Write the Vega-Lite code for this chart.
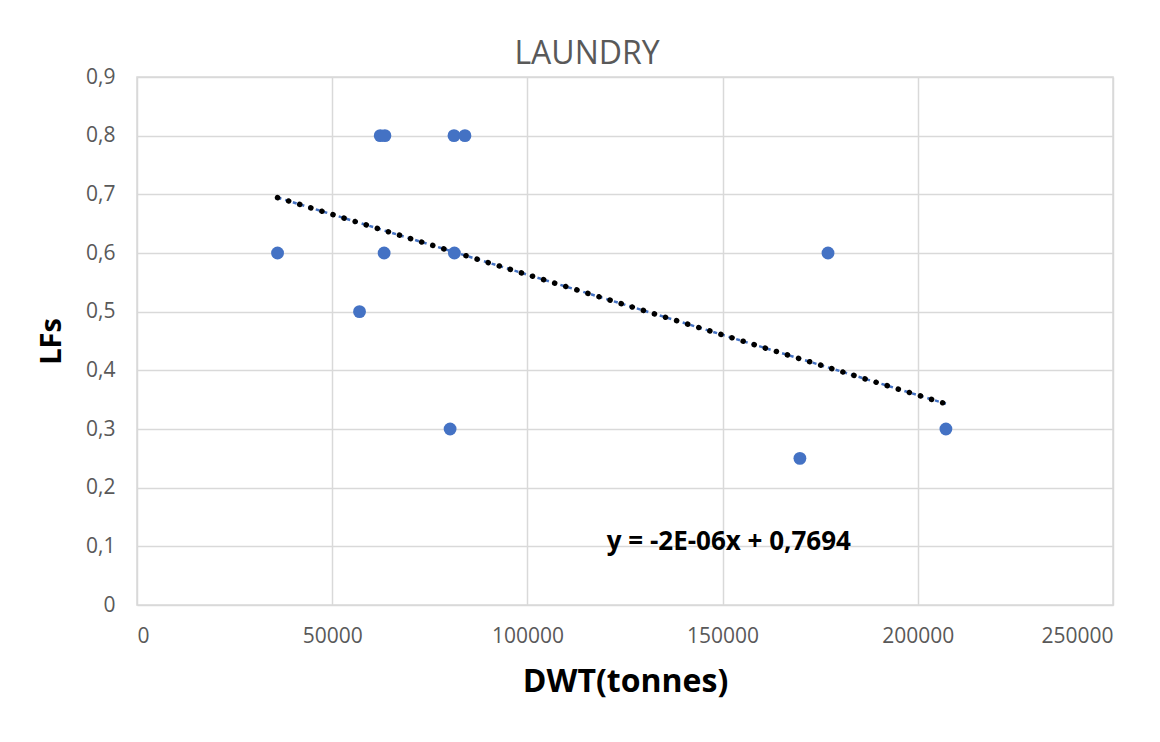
{
  "$schema": "https://vega.github.io/schema/vega-lite/v6.json",
  "width": 976,
  "height": 528,
  "autosize": {"type": "none"},
  "padding": {"left": 137, "top": 77, "right": 47, "bottom": 137},
  "background": "white",
  "config": {
    "locale": {"number": {"decimal": ",", "thousands": "", "grouping": [3], "currency": ["", ""]}},
    "view": {"stroke": "#d9d9d9", "strokeWidth": 1.5},
    "axis": {
      "gridColor": "#d9d9d9",
      "gridWidth": 1.5,
      "domain": false,
      "ticks": false,
      "labelFont": "Open Sans",
      "labelFontSize": 21,
      "labelColor": "#595959",
      "titleFont": "Open Sans",
      "titleFontWeight": "bold",
      "titleFontSize": 29,
      "titleColor": "#000000"
    }
  },
  "title": {
    "text": "LAUNDRY",
    "font": "Open Sans",
    "fontSize": 32,
    "fontWeight": "normal",
    "color": "#595959",
    "anchor": "middle",
    "dx": -38,
    "offset": -5
  },
  "datasets": {
    "points": [
      {"dwt": 36000, "lfs": 0.6},
      {"dwt": 57000, "lfs": 0.5},
      {"dwt": 62300, "lfs": 0.8},
      {"dwt": 63500, "lfs": 0.8},
      {"dwt": 63300, "lfs": 0.6},
      {"dwt": 81200, "lfs": 0.8},
      {"dwt": 84000, "lfs": 0.8},
      {"dwt": 81300, "lfs": 0.6},
      {"dwt": 80200, "lfs": 0.3},
      {"dwt": 169800, "lfs": 0.25},
      {"dwt": 177000, "lfs": 0.6},
      {"dwt": 207200, "lfs": 0.3}
    ],
    "trend": [
      {"dwt": 36000, "lfs": 0.6945},
      {"dwt": 207200, "lfs": 0.343}
    ],
    "eq": [
      {"label": "y = -2E-06x  + 0,7694", "dwt": 151600, "lfs": 0.107}
    ]
  },
  "layer": [
    {
      "data": {"name": "trend"},
      "mark": {"type": "line", "color": "#4472C4", "strokeWidth": 2.5, "strokeDash": [4, 4]},
      "encoding": {
        "x": {"field": "dwt", "type": "quantitative"},
        "y": {"field": "lfs", "type": "quantitative"}
      }
    },
    {
      "data": {"name": "trend"},
      "mark": {"type": "line", "color": "#000000", "strokeWidth": 5.5, "strokeCap": "round", "strokeDash": [0.1, 11.5]},
      "encoding": {
        "x": {"field": "dwt", "type": "quantitative"},
        "y": {"field": "lfs", "type": "quantitative"}
      }
    },
    {
      "data": {"name": "points"},
      "mark": {"type": "circle", "color": "#4472C4", "size": 165, "opacity": 1},
      "encoding": {
        "x": {
          "field": "dwt",
          "type": "quantitative",
          "scale": {"domain": [0, 250000], "nice": false, "zero": true},
          "axis": {"values": [0, 50000, 100000, 150000, 200000, 250000], "format": "d", "labelPadding": 20, "title": "DWT(tonnes)", "titleFontSize": 32, "titlePadding": 20}
        },
        "y": {
          "field": "lfs",
          "type": "quantitative",
          "scale": {"domain": [0, 0.9], "nice": false},
          "axis": {"values": [0, 0.1, 0.2, 0.3, 0.4, 0.5, 0.6, 0.7, 0.8, 0.9], "format": ".1~f", "labelPadding": 22, "title": "LFs", "titlePadding": 19}
        }
      }
    },
    {
      "data": {"name": "eq"},
      "mark": {"type": "text", "font": "Open Sans", "fontWeight": "bold", "fontSize": 26, "color": "#000000", "align": "center", "baseline": "middle"},
      "encoding": {
        "x": {"field": "dwt", "type": "quantitative"},
        "y": {"field": "lfs", "type": "quantitative"},
        "text": {"field": "label"}
      }
    }
  ]
}
